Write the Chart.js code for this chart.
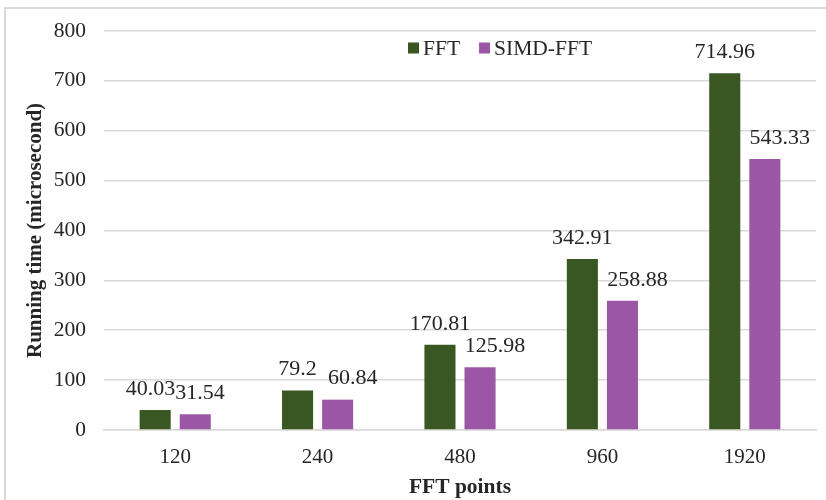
<!DOCTYPE html>
<html>
<head>
<meta charset="utf-8">
<script src="https://cdn.jsdelivr.net/npm/chart.js@4/dist/chart.umd.min.js"></script>
<style>
  html, body { margin: 0; padding: 0; background: #fff; }
  #wrap { position: relative; width: 826px; height: 500px; overflow: hidden; }
  #frame { position: absolute; left: 4px; top: 7px; width: 900px; height: 600px;
           border: 2px solid #d9d9d9; box-sizing: border-box; }
  #c { position: absolute; left: 0; top: 0; }
</style>
</head>
<body>
<div id="wrap">
  <div id="frame"></div>
  <canvas id="c" width="826" height="500"></canvas>
</div>
<script>
// FFT running times per transform size
const categories = ['120', '240', '480', '960', '1920'];
const fftTimes = [40.03, 79.2, 170.81, 342.91, 714.96];
const simdFftTimes = [31.54, 60.84, 125.98, 258.88, 543.33];
const yTicks = [0, 100, 200, 300, 400, 500, 600, 700, 800];

const SERIF = '"Liberation Serif", "Times New Roman", serif';
const TEXT = '#262626';

// Value labels above each bar. The SIMD-FFT labels sit a little to the right;
// when the two centred labels of a group collide badly they are pushed apart until they touch.
const barLabels = {
  id: 'barLabels',
  afterDatasetsDraw(chart) {
    const ctx = chart.ctx;
    ctx.save();
    ctx.font = '22px ' + SERIF;
    ctx.fillStyle = TEXT;
    ctx.textAlign = 'center';
    ctx.textBaseline = 'middle';
    const m0 = chart.getDatasetMeta(0), m1 = chart.getDatasetMeta(1);
    const d0 = chart.data.datasets[0].data, d1 = chart.data.datasets[1].data;
    for (let i = 0; i < d0.length; i++) {
      const a = m0.data[i], b = m1.data[i];
      const ta = String(d0[i]), tb = String(d1[i]);
      const wa = ctx.measureText(ta).width, wb = ctx.measureText(tb).width;
      let xa = a.x, xb = b.x;
      const ya = a.y - 21, yb = b.y - 21;
      const overlap = (xa + wa / 2) - (xb - wb / 2);
      if (overlap > 6 && Math.abs(ya - yb) < 22) {
        xa -= overlap / 2; xb += overlap / 2;
      } else {
        xb += 15;
      }
      ctx.fillText(ta, xa, ya);
      ctx.fillText(tb, xb, yb);
    }
    ctx.restore();
  }
};

// Legend drawn inside the plot, top centre
const insideLegend = {
  id: 'insideLegend',
  afterDraw(chart) {
    const ctx = chart.ctx;
    ctx.save();
    ctx.font = '21.5px ' + SERIF;
    ctx.textBaseline = 'middle';
    let x = 408;
    const y = 48;
    chart.data.datasets.forEach(ds => {
      ctx.fillStyle = ds.backgroundColor;
      ctx.fillRect(x, y - 5.5, 11, 11);
      x += 15;
      ctx.fillStyle = TEXT;
      ctx.fillText(ds.label, x, y + 1);
      x += ctx.measureText(ds.label).width + 19;
    });
    ctx.restore();
  }
};

new Chart(document.getElementById('c'), {
  type: 'bar',
  data: {
    labels: categories,
    datasets: [
      { label: 'FFT', data: fftTimes, backgroundColor: '#385723',
        barPercentage: 0.775, categoryPercentage: 0.563 },
      { label: 'SIMD-FFT', data: simdFftTimes, backgroundColor: '#9b57a5',
        barPercentage: 0.775, categoryPercentage: 0.563 }
    ]
  },
  options: {
    responsive: false,
    animation: false,
    layout: { padding: { top: 29, right: 10, bottom: 0, left: 0 } },
    plugins: { legend: { display: false }, tooltip: { enabled: false } },
    scales: {
      x: {
        grid: { display: false, drawTicks: false },
        border: { display: true, color: '#d9d9d9', width: 1.5 },
        ticks: { color: TEXT, font: { family: SERIF, size: 21 }, padding: 15 },
        title: { display: true, text: 'FFT points', color: TEXT,
                 font: { family: SERIF, size: 21.5, weight: 'bold' }, padding: { top: 0, bottom: 0 } },
        afterFit(s) { s.height = 70; }
      },
      y: {
        min: 0, max: 800,
        afterBuildTicks(s) { s.ticks = yTicks.map(v => ({ value: v })); },
        grid: { color: '#d9d9d9', lineWidth: 1.5, drawTicks: false },
        border: { display: false },
        ticks: { color: TEXT, font: { family: SERIF, size: 21.5 }, padding: 18 },
        title: { display: true, text: 'Running time (microsecond)', color: TEXT,
                 font: { family: SERIF, size: 21, weight: 'bold' }, padding: { top: 23, bottom: 0 } },
        afterFit(s) { s.width = 104; }
      }
    }
  },
  plugins: [barLabels, insideLegend]
});
</script>
</body>
</html>
